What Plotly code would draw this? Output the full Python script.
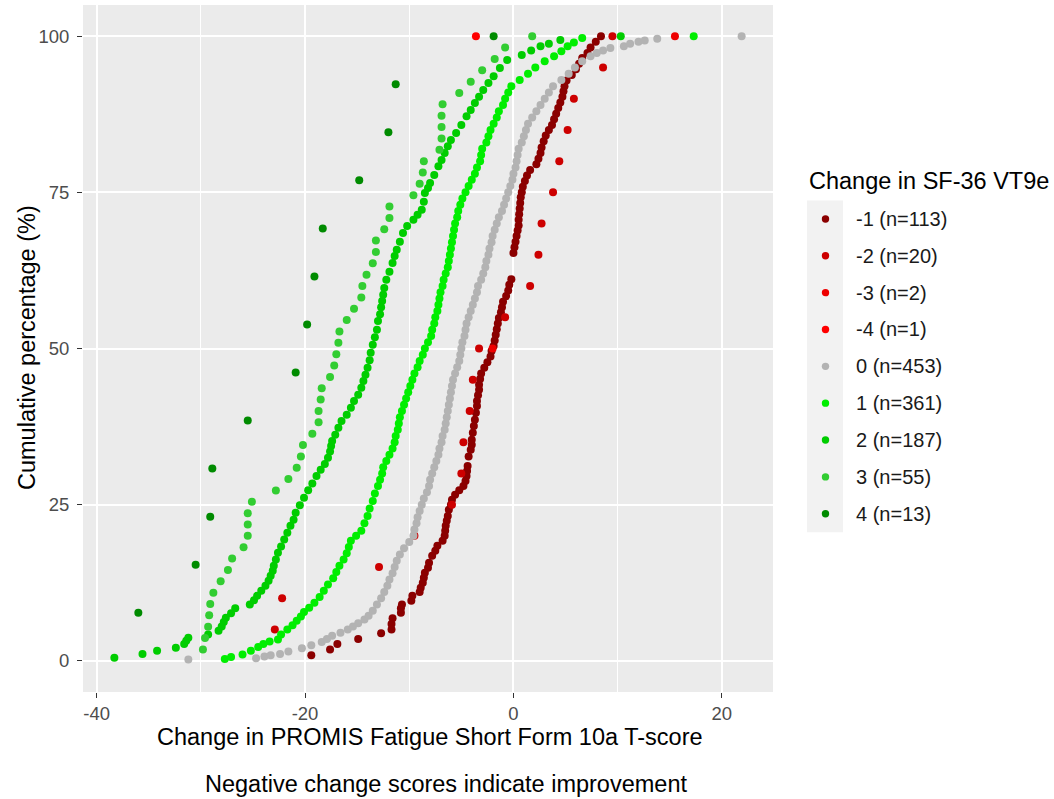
import plotly.graph_objects as go

# ---------------- data ----------------
groups = ["-1", "-2", "-3", "-4", "0", "1", "2", "3", "4"]
group_n = [113, 20, 2, 1, 453, 361, 187, 55, 13]
colors = ["#8B0000", "#CD0000", "#EE0000", "#FF0000", "#B3B3B3",
          "#00EE00", "#00CD00", "#32CD32", "#008B00"]

# small groups: sorted change scores (cumulative % = rank / n)
x_m2 = [-22.9, -22.2, -12.9, -9.5, -5.9, -5.0, -4.8, -4.2, -3.9, -3.3,
        -0.8, 1.6, 2.4, 2.7, 3.8, 4.4, 5.2, 5.8, 8.6, 9.5]
x_m3 = [-2.0, 15.5]
x_m4 = [-3.6]
x_p3 = [-29.8, -29.6, -29.3, -29.2, -29.1, -28.8, -28.1, -27.4, -27.0, -25.9,
        -25.5, -25.5, -25.5, -25.1, -22.8, -21.6, -20.8, -20.4, -20.2, -19.3,
        -18.7, -18.7, -18.5, -18.4, -17.6, -17.2, -17.0, -16.8, -16.7, -16.0,
        -15.3, -14.6, -14.5, -14.1, -13.5, -13.2, -13.2, -12.4, -11.9, -11.9,
        -9.6, -9.0, -8.7, -8.6, -7.1, -6.9, -6.9, -6.9, -6.8, -5.2,
        -4.1, -3.0, -1.8, -0.8, 1.8]
x_p4 = [-36.0, -30.5, -29.1, -28.9, -25.5, -20.9, -19.8, -19.1, -18.3, -14.8,
        -12.0, -11.3, -1.9]

# large groups: (cumulative %, change score)
pct_m1 = [0.9, 1.8, 2.7, 3.5, 4.4, 5.0, 5.9, 6.8, 7.7, 8.4, 9.0, 9.6, 10.4, 11.0,
          11.7, 12.5, 13.3, 14.1, 14.9, 15.7, 16.8, 17.6, 18.4, 19.2, 20.0, 20.8,
          21.6, 22.4, 23.2, 24.2, 25.0, 25.8, 26.6, 27.3, 28.0, 28.8, 29.6, 30.4,
          31.2, 32.7, 33.8, 34.6, 35.4, 36.5, 37.6, 38.6, 39.7, 40.8, 41.6, 42.5,
          43.4, 44.2, 45.1, 46.0, 46.9, 47.8, 48.7, 49.6, 50.4, 51.3, 52.2, 53.1,
          54.0, 54.9, 55.8, 56.6, 57.5, 58.4, 59.3, 60.2, 61.1, 65.3, 66.2, 67.1,
          68.0, 68.9, 69.7, 70.6, 71.5, 72.4, 73.3, 74.2, 75.0, 75.9, 76.8, 77.7,
          78.6, 79.5, 80.4, 81.3, 82.2, 83.2, 84.1, 85.0, 85.8, 86.7, 87.6, 88.5,
          89.4, 90.3, 91.2, 92.0, 92.9, 93.8, 94.7, 95.6, 96.5, 97.3, 98.2, 99.1,
          100.0]
x_m1 = [-19.4, -17.6, -16.9, -14.9, -12.7, -11.7, -11.7, -11.6, -10.8, -10.8, -10.7,
        -9.8, -9.7, -9.0, -8.9, -8.7, -8.6, -8.5, -8.2, -8.1, -7.8, -7.5, -7.3, -6.8,
        -6.6, -6.55, -6.5, -6.4, -6.3, -6.2, -6.0, -5.9, -5.6, -5.2, -4.8, -4.6, -4.5,
        -4.45, -4.4, -4.3, -4.1, -4.0, -4.0, -3.9, -3.8, -3.7, -3.6, -3.5, -3.5, -3.4,
        -3.3, -3.3, -3.2, -3.1, -2.8, -2.5, -2.2, -2.1, -1.9, -1.8, -1.7, -1.6, -1.5,
        -1.4, -1.2, -1.1, -1.0, -0.7, -0.5, -0.4, -0.2, 0.0, 0.1, 0.2, 0.3, 0.4, 0.5,
        0.5, 0.55, 0.6, 0.65, 0.7, 0.8, 0.9, 1.1, 1.3, 1.6, 2.2, 2.4, 2.6, 2.7, 2.9,
        3.1, 3.4, 3.7, 3.9, 4.1, 4.3, 4.5, 4.7, 4.8, 4.9, 5.1, 5.6, 6.0, 6.3, 6.6, 7.1,
        7.4, 7.9, 8.4]

pct_0 = [0.2, 0.4, 0.7, 0.9, 1.1, 1.5, 2.0, 2.5, 3.0, 3.5, 4.0, 4.5, 5.0, 5.5, 6.0,
         6.6, 7.2, 8.0, 9.0, 10, 11, 12, 13, 14, 15, 16, 17, 18, 19, 20, 21, 22, 23,
         24, 25, 26, 27, 28, 29, 30, 31, 32, 33, 34, 35, 36, 37, 38, 39, 40, 41, 42,
         43, 44, 45, 46, 47, 48, 49, 50, 51, 52, 53, 54, 55, 56, 57, 58, 59, 60, 61,
         62, 63, 64, 65, 66, 67, 68, 69, 70, 71, 72, 73, 74, 75, 76, 77, 78, 79, 80,
         81, 82, 83, 84, 85, 86, 87, 88, 89, 90, 91, 92, 93, 94, 95, 96, 96.8, 97.3,
         97.7, 98.1, 98.4, 98.8, 99.1, 99.3, 99.6, 100]
x_0 = [-31.2, -24.7, -23.9, -23.3, -22.4, -21.6, -20.3, -19.4, -18.4, -17.9, -17.4,
       -16.6, -15.9, -15.4, -14.9, -14.3, -13.9, -13.5, -13.1, -12.7, -12.4, -12.1,
       -11.9, -11.6, -11.4, -11.2, -10.9, -10.5, -10.0, -9.6, -9.5, -9.3, -9.2, -9.0,
       -8.8, -8.6, -8.3, -8.1, -8.0, -7.8, -7.6, -7.4, -7.2, -7.1, -6.9, -6.8, -6.6,
       -6.5, -6.4, -6.3, -6.2, -6.1, -6.0, -5.9, -5.8, -5.6, -5.4, -5.2, -5.1, -5.0,
       -4.9, -4.7, -4.6, -4.5, -4.3, -4.1, -3.9, -3.7, -3.5, -3.4, -3.1, -2.9, -2.7,
       -2.6, -2.4, -2.3, -2.1, -2.0, -1.8, -1.6, -1.4, -1.1, -0.9, -0.7, -0.5, -0.3,
       -0.1, 0.0, 0.2, 0.3, 0.4, 0.5, 0.8, 1.0, 1.2, 1.4, 1.8, 2.2, 2.6, 3.0, 3.4,
       3.8, 4.6, 5.3, 5.9, 6.6, 7.4, 8.0, 8.6, 9.3, 10.6, 11.2, 12.0, 12.6, 13.8, 21.9]

pct_1 = [0.3, 0.6, 1.0, 1.6, 2.2, 2.7, 3.1, 3.4, 4.2, 5.0, 5.7, 6.4, 7.1, 7.8, 8.5,
         9.3, 10.2, 11.2, 12.2, 13.2, 14.2, 15.2, 16.2, 17.2, 18.2, 19.2, 20.0, 20.8,
         22.0, 23.2, 24.4, 25.6, 26.8, 28.0, 29, 30, 31, 32, 33, 34, 35, 36, 37, 38,
         39, 40, 41, 42, 43, 44, 45, 46, 47, 48, 49, 50, 51, 52, 53, 54, 55, 56, 57,
         58, 59, 60, 61, 62, 63, 64, 65, 66, 67, 68, 69, 70, 71, 72, 73, 74, 75, 76,
         77, 78, 79, 80, 81, 82, 83, 84, 85, 86, 87, 88, 89, 90, 91, 92, 93, 94, 95,
         96, 96.8, 97.6, 98.4, 99.0, 99.7, 100]
x_1 = [-27.7, -27.1, -26.0, -25.2, -24.5, -24.0, -23.4, -22.6, -22.3, -21.7, -21.2,
       -20.8, -20.4, -20.1, -19.6, -19.1, -18.6, -18.2, -17.8, -17.3, -17.0, -16.7,
       -16.3, -16.0, -15.8, -15.6, -15.1, -14.6, -14.3, -14.0, -13.8, -13.5, -13.3,
       -13.0, -12.8, -12.6, -12.5, -12.2, -11.9, -11.6, -11.4, -11.3, -11.1, -11.0,
       -10.9, -10.7, -10.5, -10.3, -10.1, -9.9, -9.7, -9.5, -9.2, -9.0, -8.7, -8.5,
       -8.2, -7.9, -7.8, -7.6, -7.5, -7.3, -7.2, -7.1, -7.0, -6.8, -6.7, -6.5, -6.3,
       -6.2, -6.1, -6.0, -5.9, -5.8, -5.7, -5.6, -5.4, -5.3, -5.1, -4.9, -4.6, -4.3,
       -4.0, -3.7, -3.5, -3.2, -3.1, -3.0, -2.6, -2.4, -2.2, -1.9, -1.6, -1.4, -1.0,
       -0.8, -0.5, -0.2, 0.6, 1.4, 2.1, 3.0, 3.9, 4.6, 5.2, 5.8, 6.6, 17.3]

pct_2 = [0.5, 1.1, 1.6, 2.1, 2.7, 3.2, 3.7, 4.2, 4.8, 5.5, 6.2, 6.9, 7.6, 8.4, 9.0,
         9.7, 10.4, 11.2, 12.0, 12.8, 13.6, 14.4, 15.2, 16.2, 17.3, 18.3, 19.4, 20.5,
         21.6, 22.6, 23.7, 24.9, 26.1, 27.3, 28.4, 29.6, 30.6, 31.5, 32.5, 33.5, 34.4,
         35.2, 36.2, 37.3, 38.4, 39.4, 40.5, 41.6, 42.6, 43.7, 44.8, 45.8, 46.9, 48.1,
         49.3, 50.6, 51.8, 53.0, 54.4, 55.5, 56.6, 57.6, 58.6, 59.7, 61.0, 62.3, 63.7,
         64.8, 65.8, 67.1, 68.5, 69.6, 70.6, 71.4, 72.2, 73.5, 74.9, 75.7, 76.5, 77.8,
         79.2, 80.2, 81.3, 82.4, 83.4, 84.5, 85.8, 87.2, 88.2, 89.3, 90.3, 91.4, 92.5,
         93.6, 94.9, 96.2, 97.0, 97.7, 98.4, 98.8, 99.4, 100]
x_2 = [-38.3, -35.6, -34.2, -32.4, -31.6, -31.4, -31.2, -29.3, -28.3, -28.0, -27.8,
       -27.6, -27.1, -26.7, -25.3, -24.9, -24.6, -24.2, -23.8, -23.5, -23.3, -23.1,
       -23.0, -22.8, -22.6, -22.3, -22.0, -21.7, -21.4, -21.1, -20.9, -20.5, -20.1,
       -19.7, -19.3, -18.9, -18.5, -18.1, -17.8, -17.6, -17.5, -17.4, -17.1, -16.8,
       -16.5, -16.0, -15.6, -15.3, -14.9, -14.6, -14.4, -14.2, -14.0, -13.8, -13.7,
       -13.5, -13.3, -13.1, -13.0, -12.8, -12.7, -12.6, -12.5, -12.4, -12.2, -11.9,
       -11.6, -11.4, -11.2, -10.9, -10.6, -10.2, -9.6, -9.2, -8.8, -8.6, -8.5, -8.2,
       -8.0, -7.6, -7.2, -6.9, -6.6, -6.3, -6.0, -5.5, -5.0, -4.5, -4.1, -3.7, -3.3,
       -2.9, -2.4, -1.9, -1.3, -0.6, 0.8, 1.7, 2.6, 3.4, 4.5, 10.3]

x_ticks = [-40, -20, 0, 20]
x_tick_labels = ["-40", "-20", "0", "20"]
y_ticks = [0, 25, 50, 75, 100]
y_tick_labels = ["0", "25", "50", "75", "100"]

# ---------------- assemble series ----------------
def ranked(xs):
    n = len(xs)
    return [100.0 * (i + 1) / n for i in range(n)]

series = {
    "-1": (x_m1, pct_m1),
    "-2": (x_m2, ranked(x_m2)),
    "-3": (x_m3, ranked(x_m3)),
    "-4": (x_m4, ranked(x_m4)),
    "0": (x_0, pct_0),
    "1": (x_1, pct_1),
    "2": (x_2, pct_2),
    "3": (x_p3, ranked(x_p3)),
    "4": (x_p4, ranked(x_p4)),
}
for g, (xs, ys) in series.items():
    assert len(xs) == len(ys), g

# ---------------- figure ----------------
FW, FH = 1054, 799
L, R, T, B = 83, 773, 5, 692          # panel pixel box
PW, PH = R - L, B - T
FONT = "Liberation Sans, Arial, Helvetica, sans-serif"


def px(p):
    return (p - L) / PW


def py(p):
    return (B - p) / PH


fig = go.Figure()
for g, c in zip(groups, colors):
    xs, ys = series[g]
    fig.add_trace(go.Scatter(
        x=xs, y=ys, mode="markers", name=g,
        marker=dict(color=c, size=8, line=dict(width=0)),
        showlegend=False, hoverinfo="x+y+name"))

axis_common = dict(
    showgrid=True, gridcolor="white", gridwidth=1.6,
    zeroline=False, showline=False,
    ticks="outside", ticklen=5, tickwidth=1.3, tickcolor="#333333",
    tickfont=dict(family=FONT, size=18.5, color="#4D4D4D"),
)
fig.update_xaxes(range=[-41.31, 24.91], tickvals=x_ticks, ticktext=x_tick_labels,
                 minor=dict(dtick=10, tick0=0, showgrid=True,
                            gridcolor="white", gridwidth=0.8),
                 **axis_common)
fig.update_yaxes(range=[-5, 105], tickvals=y_ticks, ticktext=y_tick_labels,
                 ticklabelstandoff=4, **axis_common)

shapes = []
annotations = []

# legend
key_top, key_h = 200.5, 36.85
key_left, key_right = 807, 843
shapes.append(dict(type="rect", xref="paper", yref="paper",
                   x0=px(key_left), x1=px(key_right),
                   y0=py(key_top), y1=py(key_top + key_h * len(groups)),
                   fillcolor="#F2F2F2", line=dict(width=0), layer="below"))
for i, (g, n, c) in enumerate(zip(groups, group_n, colors)):
    cy = key_top + key_h * (i + 0.5)
    cx = 825.5
    r = 3.7
    shapes.append(dict(type="circle", xref="paper", yref="paper",
                       x0=px(cx - r), x1=px(cx + r), y0=py(cy + r), y1=py(cy - r),
                       fillcolor=c, line=dict(width=0)))
    annotations.append(dict(text=f"{g} (n={n})", xref="paper", yref="paper",
                            x=px(854), y=py(cy), xanchor="left", yanchor="middle",
                            showarrow=False,
                            font=dict(family=FONT, size=20, color="#1A1A1A")))
annotations.append(dict(text="Change in SF-36 VT9e", xref="paper", yref="paper",
                        x=px(807), y=py(181), xanchor="left", yanchor="middle",
                        showarrow=False, font=dict(family=FONT, size=23.5, color="black")))

# axis titles and caption
annotations.append(dict(text="Change in PROMIS Fatigue Short Form 10a T-score",
                        xref="paper", yref="paper", x=px(430), y=py(737),
                        xanchor="center", yanchor="middle", showarrow=False,
                        font=dict(family=FONT, size=23.5, color="black")))
annotations.append(dict(text="Cumulative percentage (%)", xref="paper", yref="paper",
                        x=px(27), y=py(348), xanchor="center", yanchor="middle",
                        textangle=-90, showarrow=False,
                        font=dict(family=FONT, size=23.5, color="black")))
annotations.append(dict(text="Negative change scores indicate improvement",
                        xref="paper", yref="paper", x=px(446), y=py(784),
                        xanchor="center", yanchor="middle", showarrow=False,
                        font=dict(family=FONT, size=23.5, color="black")))

fig.update_layout(
    width=FW, height=FH,
    margin=dict(l=L, r=FW - R, t=T, b=FH - B, pad=0),
    paper_bgcolor="white", plot_bgcolor="#EBEBEB",
    showlegend=False, shapes=shapes, annotations=annotations,
    font=dict(family=FONT),
)

fig.write_html("out.html",
               config={"displayModeBar": False},
               post_script="document.body.style.margin='0';"
                           "document.body.style.padding='0';"
                           "document.body.style.overflow='hidden';")
